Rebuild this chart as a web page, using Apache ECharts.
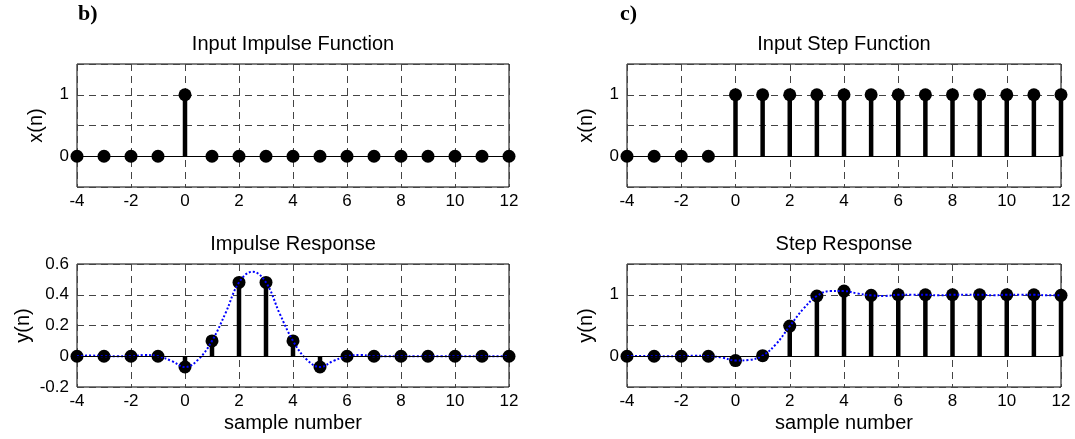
<!DOCTYPE html>
<html>
<head>
<meta charset="utf-8">
<script src="https://cdn.jsdelivr.net/npm/echarts@6/dist/echarts.min.js"></script>
<style>
  html, body { margin: 0; padding: 0; background: #fff; }
  #chart { width: 1075px; height: 439px; }
</style>
</head>
<body>
<div id="chart"></div>
<script>
// sample index n
const samples = [-4, -3, -2, -1, 0, 1, 2, 3, 4, 5, 6, 7, 8, 9, 10, 11, 12]

// b) impulse
const impulseIn = [0, 0, 0, 0, 1, 0, 0, 0, 0, 0, 0, 0, 0, 0, 0, 0, 0]
const impulseOut = [0, 0, 0, 0, -0.07, 0.1, 0.48, 0.48, 0.1, -0.07, 0, 0, 0, 0, 0, 0, 0]

// c) step
const stepIn = [0, 0, 0, 0, 1, 1, 1, 1, 1, 1, 1, 1, 1, 1, 1, 1, 1]
const stepOut = [0, 0, 0, 0, -0.07, 0.01, 0.49, 0.98, 1.06, 0.99, 1, 1, 1, 1, 1, 1, 0.99]

const curveN = [-4, -3.5, -3, -2.5, -2, -1.5, -1, -0.5, 0, 0.5, 1, 1.5, 2, 2.5, 3, 3.5, 4,
  4.5, 5, 5.5, 6, 6.5, 7, 7.5, 8, 8.5, 9, 9.5, 10, 10.5, 11, 11.5, 12]
const impulseCurve = [0, 0.005, 0, 0, 0, 0.008, 0, -0.03, -0.07, -0.02, 0.1, 0.28, 0.48, 0.55, 0.48, 0.28, 0.1,
  -0.02, -0.07, -0.03, 0, 0.008, 0, 0, 0, 0, 0, 0, 0, 0, 0, 0, 0]
const stepCurve = [0, 0.005, 0, 0, 0, 0.01, 0, -0.02, -0.07, -0.06, 0.01, 0.2, 0.49, 0.77, 0.98, 1.06, 1.06,
  1.02, 0.99, 0.98, 1, 1, 1, 0.99, 1, 1, 1, 0.99, 1, 1, 1, 0.99, 0.99]

// tick labels
const xTicks = [-4, -2, 0, 2, 4, 6, 8, 10, 12]
const unitYTicks = [0, 1]
const impulseYTicks = [-0.2, 0, 0.2, 0.4, 0.6]

const titles = ['Input Impulse Function', 'Impulse Response', 'Input Step Function', 'Step Response']
const yNames = ['x(n)', 'y(n)', 'x(n)', 'y(n)']
const panelTags = ['b)', 'c)']

const FONT = '"Liberation Sans", Arial, sans-serif'

const chart = echarts.init(document.getElementById('chart'))

// grids: b-top, b-bottom, c-top, c-bottom
const grids = [
  { left: 77, top: 64, width: 432, height: 123 },
  { left: 77, top: 264, width: 432, height: 123 },
  { left: 627, top: 64, width: 434, height: 123 },
  { left: 627, top: 264, width: 434, height: 123 }
].map(g => ({ ...g, show: true, borderColor: '#000', borderWidth: 1, backgroundColor: 'transparent' }))

const dashed = { color: '#444', width: 1, type: [7, 5] }

function pair(xs, vals) {
  return xs.map((n, i) => [n, vals[i]])
}

const xAxes = grids.map((g, i) => ({
  type: 'value',
  gridIndex: i,
  min: xTicks[0],
  max: xTicks[xTicks.length - 1],
  interval: 2,
  axisLine: { show: false },
  axisTick: { show: false },
  axisLabel: {
    color: '#000', fontFamily: FONT, fontSize: 17, margin: 6,
    formatter: v => (xTicks.includes(v) ? String(v) : '')
  },
  splitLine: { show: true, lineStyle: dashed },
  name: i % 2 === 1 ? 'sample number' : '',
  nameLocation: 'middle',
  nameGap: 26,
  nameTextStyle: { color: '#000', fontFamily: FONT, fontSize: 20 }
}))

const yAxes = grids.map((g, i) => {
  const isImpulseOut = i === 1
  return {
    type: 'value',
    gridIndex: i,
    min: isImpulseOut ? -0.2 : -0.5,
    max: isImpulseOut ? 0.6 : 1.5,
    interval: isImpulseOut ? 0.2 : 0.5,
    axisLine: { show: false },
    axisTick: { show: false },
    axisLabel: {
      color: '#000', fontFamily: FONT, fontSize: 17, margin: 8,
      formatter: v => {
        const r = Math.round(v * 10) / 10
        const ticks = isImpulseOut ? impulseYTicks : unitYTicks
        return ticks.includes(r) ? String(r) : ''
      }
    },
    splitLine: { show: true, lineStyle: dashed },
    name: yNames[i],
    nameLocation: 'middle',
    nameGap: isImpulseOut ? 44 : 31,
    nameTextStyle: { color: '#000', fontFamily: FONT, fontSize: 20 }
  }
})

function stemSeries(idx, vals) {
  return {
    type: 'custom',
    xAxisIndex: idx,
    yAxisIndex: idx,
    clip: false,
    z: 2,
    data: pair(samples, vals),
    renderItem: (params, api) => {
      const p0 = api.coord([api.value(0), 0])
      const p1 = api.coord([api.value(0), api.value(1)])
      return {
        type: 'line',
        shape: { x1: p0[0], y1: p0[1], x2: p1[0], y2: p1[1] },
        style: { stroke: '#000', lineWidth: 4.5 }
      }
    }
  }
}

function markerSeries(idx, vals) {
  return {
    type: 'scatter',
    xAxisIndex: idx,
    yAxisIndex: idx,
    clip: false,
    z: 3,
    symbol: 'circle',
    symbolSize: 13,
    itemStyle: { color: '#000', opacity: 1 },
    data: pair(samples, vals),
    markLine: {
      silent: true,
      symbol: 'none',
      label: { show: false },
      lineStyle: { color: '#000', width: 1, type: 'solid' },
      data: [{ yAxis: 0 }]
    }
  }
}

function curveSeries(idx, vals) {
  return {
    type: 'line',
    xAxisIndex: idx,
    yAxisIndex: idx,
    z: 4,
    smooth: 0.4,
    symbol: 'none',
    lineStyle: { color: '#0000ff', width: 2, type: [2, 2] },
    data: pair(curveN, vals)
  }
}

const series = [
  stemSeries(0, impulseIn), markerSeries(0, impulseIn),
  stemSeries(1, impulseOut), markerSeries(1, impulseOut), curveSeries(1, impulseCurve),
  stemSeries(2, stepIn), markerSeries(2, stepIn),
  stemSeries(3, stepOut), markerSeries(3, stepOut), curveSeries(3, stepCurve)
]

// titles above each panel
const graphic = grids.map((g, i) => ({
  type: 'text',
  x: g.left + g.width / 2,
  y: g.top - 20,
  style: {
    text: titles[i],
    fill: '#000',
    font: '20px ' + FONT,
    textAlign: 'center',
    textVerticalAlign: 'middle'
  }
}))

// panel tags b) c)
const tagFont = 'bold 22px "Liberation Serif", "Times New Roman", serif'
graphic.push(
  { type: 'text', x: 78, y: 14, style: { text: panelTags[0], fill: '#000', font: tagFont, textAlign: 'left', textVerticalAlign: 'middle' } },
  { type: 'text', x: 620, y: 14, style: { text: panelTags[1], fill: '#000', font: tagFont, textAlign: 'left', textVerticalAlign: 'middle' } }
)

chart.setOption({
  animation: false,
  backgroundColor: '#fff',
  grid: grids,
  xAxis: xAxes,
  yAxis: yAxes,
  series: series,
  graphic: graphic
})
</script>
</body>
</html>
